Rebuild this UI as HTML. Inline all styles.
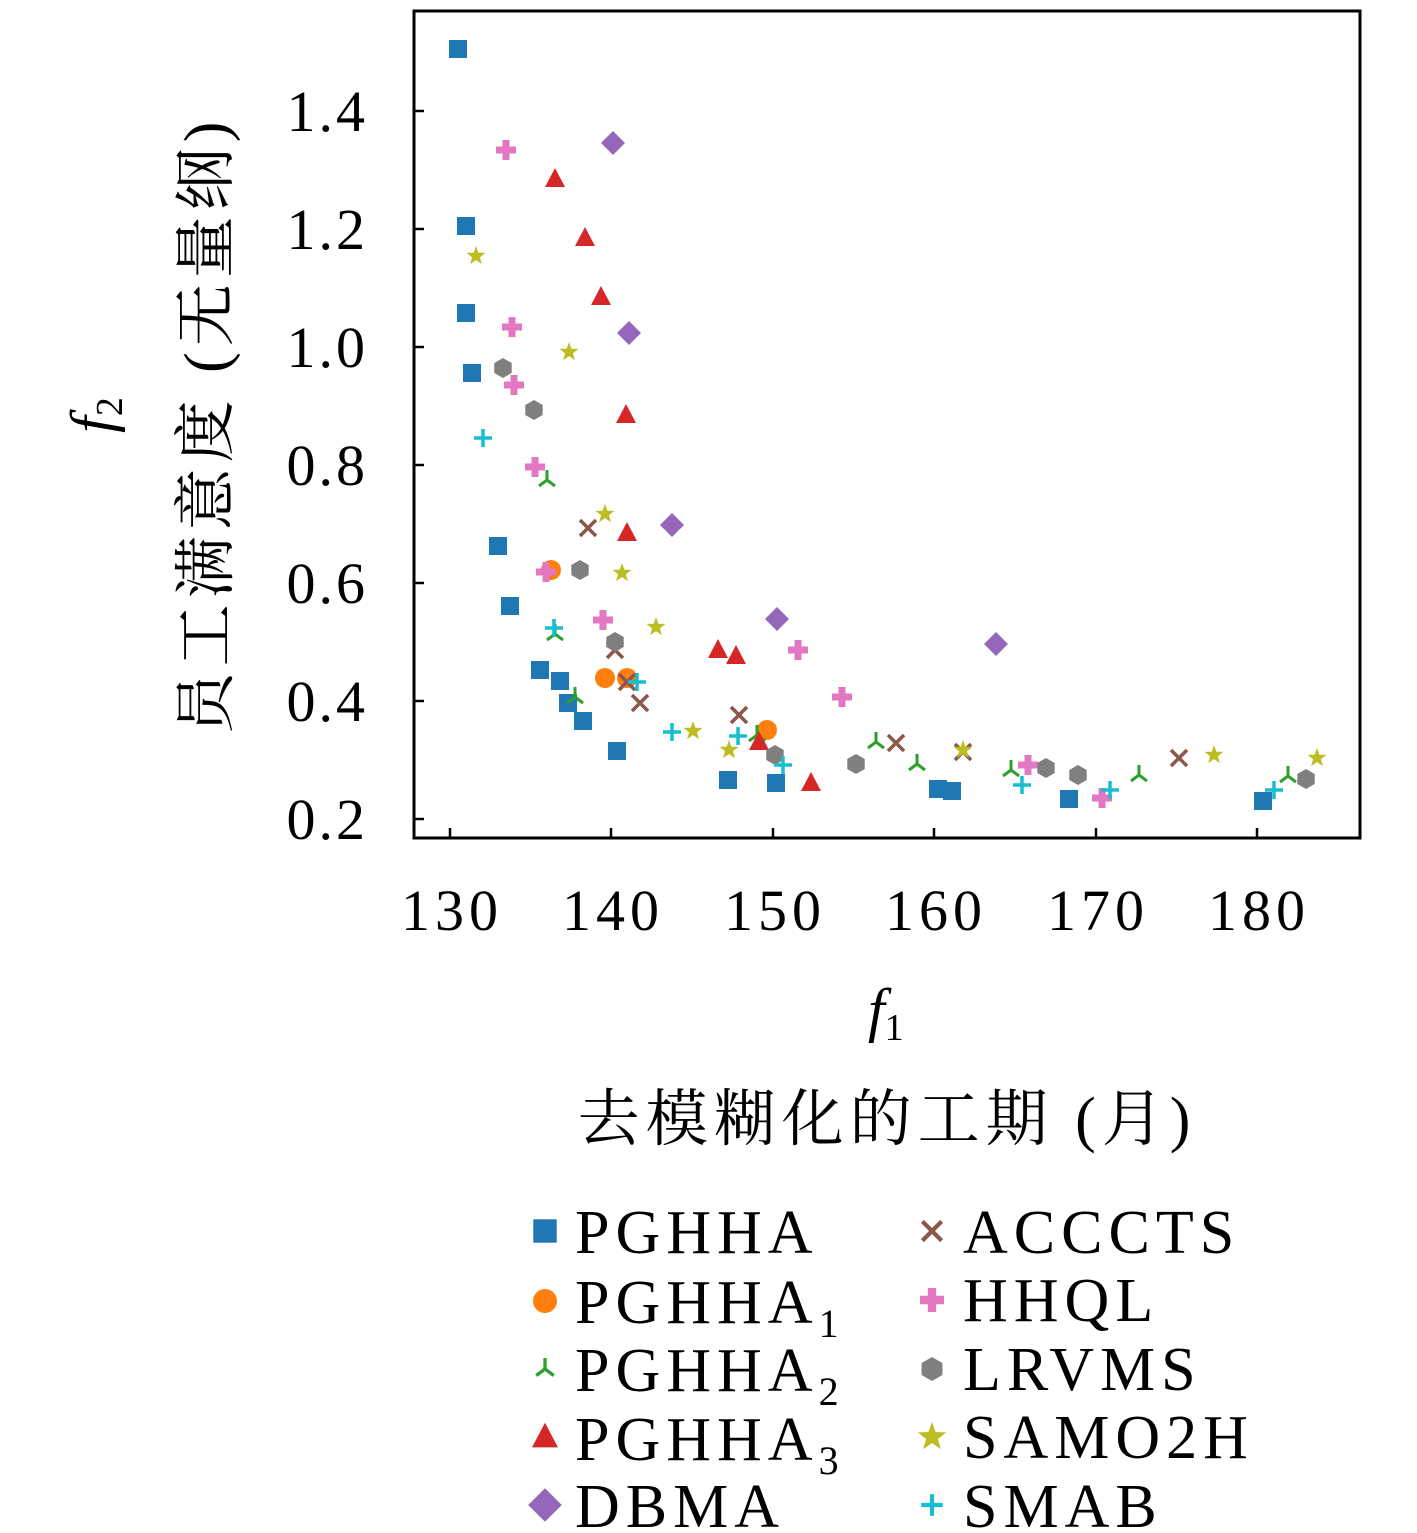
<!DOCTYPE html>
<html><head><meta charset="utf-8"><style>body{margin:0;background:#fff}svg{display:block}</style></head>
<body>
<svg xmlns="http://www.w3.org/2000/svg" width="1417" height="1533" viewBox="0 0 1417 1533">
<defs>
<rect id="sq" x="-9" y="-9" width="18" height="18" fill="#1f77b4"/>
<circle id="ci" r="10" fill="#ff7f0e"/>
<g id="tr" stroke="#2ca02c" stroke-width="3" fill="none"><line x1="0" y1="0" x2="0" y2="-10"/><line x1="0" y1="0" x2="-8" y2="6"/><line x1="0" y1="0" x2="8" y2="6"/></g>
<polygon id="ta" points="0,-11 10,8 -10,8" fill="#d62728"/>
<polygon id="di" points="0,-12 12,0 0,12 -12,0" fill="#9467bd"/>
<g id="xx" stroke="#8c564b" stroke-width="3.5"><line x1="-8" y1="-8" x2="8" y2="8"/><line x1="-8" y1="8" x2="8" y2="-8"/></g>
<path id="pl" d="M-3.5,-10h7v6.5h6.5v7h-6.5v6.5h-7v-6.5h-6.5v-7h6.5z" fill="#e377c2"/>
<polygon id="hx" points="0,-10 8.7,-5 8.7,5 0,10 -8.7,5 -8.7,-5" fill="#7f7f7f"/>
<polygon id="st" points="0,-10 2.4,-3.3 9.5,-3.1 3.9,1.3 5.9,8.1 0,4.1 -5.9,8.1 -3.9,1.3 -9.5,-3.1 -2.4,-3.3" fill="#bcbd22"/>
<g id="sp" stroke="#17becf" stroke-width="3.5"><line x1="-9" y1="0" x2="9" y2="0"/><line x1="0" y1="-9" x2="0" y2="9"/></g>
</defs>
<rect x="414" y="11" width="946" height="827" fill="none" stroke="#000" stroke-width="3"/>
<g stroke="#000" stroke-width="2.5">
<line x1="414" y1="111" x2="424" y2="111"/><line x1="414" y1="229" x2="424" y2="229"/><line x1="414" y1="347" x2="424" y2="347"/><line x1="414" y1="465" x2="424" y2="465"/><line x1="414" y1="583" x2="424" y2="583"/><line x1="414" y1="701" x2="424" y2="701"/><line x1="414" y1="819" x2="424" y2="819"/>
<line x1="450" y1="838" x2="450" y2="828"/><line x1="611" y1="838" x2="611" y2="828"/><line x1="773" y1="838" x2="773" y2="828"/><line x1="934" y1="838" x2="934" y2="828"/><line x1="1096" y1="838" x2="1096" y2="828"/><line x1="1257" y1="838" x2="1257" y2="828"/>
</g>
<g font-family="Liberation Serif, serif" font-size="58" text-anchor="end" letter-spacing="3">
<text x="368" y="131">1.4</text><text x="368" y="249">1.2</text><text x="368" y="367">1.0</text><text x="368" y="485">0.8</text><text x="368" y="603">0.6</text><text x="368" y="721">0.4</text><text x="368" y="839">0.2</text>
</g>
<g font-family="Liberation Serif, serif" font-size="58" text-anchor="middle" letter-spacing="5">
<text x="452" y="930">130</text><text x="613" y="930">140</text><text x="775" y="930">150</text><text x="936" y="930">160</text><text x="1098" y="930">170</text><text x="1259" y="930">180</text>
</g>
<text x="868" y="1030" font-family="Liberation Serif, serif" font-size="60" font-style="italic">f<tspan font-size="38" font-style="normal" dy="10">1</tspan></text>
<text x="887" y="1140" text-anchor="middle" font-family="Liberation Serif, 'Noto Serif CJK SC', serif" font-size="62" letter-spacing="6">去模糊化的工期 (月)</text>
<g transform="translate(112,415) rotate(-90)"><text text-anchor="middle" font-family="Liberation Serif, serif" font-size="60" font-style="italic">f<tspan font-size="38" font-style="normal" dy="10">2</tspan></text></g>
<g transform="translate(227,425) rotate(-90)"><text text-anchor="middle" font-family="Liberation Serif, 'Noto Serif CJK SC', serif" font-size="62" letter-spacing="6">员工满意度 (无量纲)</text></g>

<g>
<use href="#sq" x="458" y="49"/><use href="#sq" x="466" y="226"/><use href="#sq" x="466" y="313"/><use href="#sq" x="472" y="373"/><use href="#sq" x="498" y="546"/><use href="#sq" x="510" y="606"/><use href="#sq" x="540" y="670"/><use href="#sq" x="560" y="681"/><use href="#sq" x="568" y="703"/><use href="#sq" x="583" y="721"/><use href="#sq" x="617" y="751"/><use href="#sq" x="728" y="780"/><use href="#sq" x="776" y="783"/><use href="#sq" x="938" y="789"/><use href="#sq" x="952" y="791"/><use href="#sq" x="1069" y="799"/><use href="#sq" x="1263" y="801"/>
<use href="#ci" x="551" y="570"/><use href="#ci" x="605" y="678"/><use href="#ci" x="627" y="678"/><use href="#ci" x="767" y="730"/>
<use href="#tr" x="547" y="480"/><use href="#tr" x="555" y="634"/><use href="#tr" x="575" y="697"/><use href="#tr" x="757" y="735"/><use href="#tr" x="876" y="742"/><use href="#tr" x="917" y="764"/><use href="#tr" x="1011" y="770"/><use href="#tr" x="1139" y="775"/><use href="#tr" x="1288" y="776"/>
<use href="#ta" x="555" y="179"/><use href="#ta" x="585" y="238"/><use href="#ta" x="601" y="297"/><use href="#ta" x="626" y="415"/><use href="#ta" x="627" y="533"/><use href="#ta" x="718" y="650"/><use href="#ta" x="736" y="656"/><use href="#ta" x="759" y="742"/><use href="#ta" x="811" y="783"/>
<use href="#di" x="613" y="143"/><use href="#di" x="629" y="333"/><use href="#di" x="672" y="525"/><use href="#di" x="777" y="619"/><use href="#di" x="996" y="644"/>
<use href="#xx" x="588" y="528"/><use href="#xx" x="615" y="650"/><use href="#xx" x="627" y="682"/><use href="#xx" x="640" y="703"/><use href="#xx" x="739" y="715"/><use href="#xx" x="896" y="743"/><use href="#xx" x="963" y="752"/><use href="#xx" x="1179" y="758"/>
<use href="#pl" x="506" y="150"/><use href="#pl" x="512" y="327"/><use href="#pl" x="514" y="385"/><use href="#pl" x="535" y="467"/><use href="#pl" x="546" y="572"/><use href="#pl" x="603" y="620"/><use href="#pl" x="798" y="650"/><use href="#pl" x="842" y="697"/><use href="#pl" x="1028" y="765"/><use href="#pl" x="1102" y="798"/>
<use href="#hx" x="503" y="368"/><use href="#hx" x="534" y="410"/><use href="#hx" x="580" y="570"/><use href="#hx" x="615" y="642"/><use href="#hx" x="775" y="755"/><use href="#hx" x="856" y="764"/><use href="#hx" x="1046" y="768"/><use href="#hx" x="1078" y="775"/><use href="#hx" x="1306" y="779"/>
<use href="#st" x="476" y="256"/><use href="#st" x="569" y="352"/><use href="#st" x="605" y="514"/><use href="#st" x="622" y="573"/><use href="#st" x="656" y="627"/><use href="#st" x="693" y="731"/><use href="#st" x="729" y="750"/><use href="#st" x="963" y="750"/><use href="#st" x="1214" y="755"/><use href="#st" x="1317" y="758"/>
<use href="#sp" x="483" y="438"/><use href="#sp" x="554" y="628"/><use href="#sp" x="637" y="682"/><use href="#sp" x="672" y="732"/><use href="#sp" x="738" y="736"/><use href="#sp" x="783" y="765"/><use href="#sp" x="1022" y="785"/><use href="#sp" x="1110" y="790"/><use href="#sp" x="1274" y="790"/>
</g>

<g transform="translate(545,1231) scale(1.3)"><use href="#sq"/></g>
<g transform="translate(545,1301) scale(1.2)"><use href="#ci"/></g>
<g transform="translate(545,1369) scale(1.1)"><use href="#tr"/></g>
<g transform="translate(545,1437) scale(1.3)"><use href="#ta"/></g>
<g transform="translate(545,1505) scale(1.4)"><use href="#di"/></g>
<g transform="translate(932,1231) scale(1.2)"><use href="#xx"/></g>
<g transform="translate(932,1300) scale(1.2)"><use href="#pl"/></g>
<g transform="translate(932,1369) scale(1.2)"><use href="#hx"/></g>
<g transform="translate(932,1437) scale(1.5)"><use href="#st"/></g>
<g transform="translate(932,1505) scale(1.2)"><use href="#sp"/></g>
<g font-family="Liberation Serif, serif" font-size="62" letter-spacing="6">
<text x="575" y="1253">PGHHA</text>
<text x="575" y="1323">PGHHA<tspan font-size="40" dy="14">1</tspan></text>
<text x="575" y="1391">PGHHA<tspan font-size="40" dy="14">2</tspan></text>
<text x="575" y="1460">PGHHA<tspan font-size="40" dy="14">3</tspan></text>
<text x="575" y="1527">DBMA</text>
<text x="963" y="1253">ACCCTS</text>
<text x="963" y="1321">HHQL</text>
<text x="963" y="1390">LRVMS</text>
<text x="963" y="1458">SAMO2H</text>
<text x="963" y="1527">SMAB</text>
</g>
</svg>
</body></html>
